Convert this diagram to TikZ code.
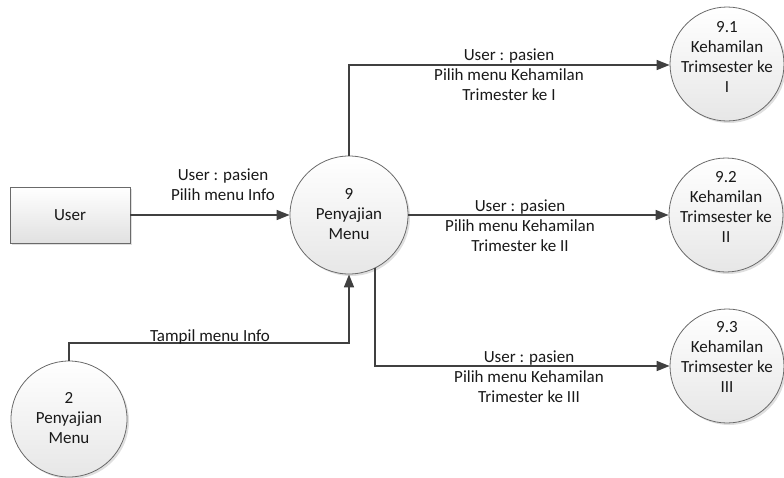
\documentclass[tikz,border=0pt]{standalone}
\usepackage{fontspec}
\setmainfont{Carlito}
\usetikzlibrary{arrows.meta,shadows}
\definecolor{linec}{HTML}{404040}
\definecolor{edgec}{HTML}{6A6A6A}
\definecolor{fillc}{HTML}{F2F2F2}
\begin{document}
\begin{tikzpicture}[x=1pt,y=-1pt,
  every node/.style={font=\fontsize{17}{20}\selectfont, text=black!90, inner sep=0pt},
  proc/.style={circle, draw=edgec, line width=0.8pt, top color=white, bottom color=fillc!90!gray, drop shadow={opacity=0.25, shadow xshift=2pt, shadow yshift=-2pt}},
  ent/.style={rectangle, draw=edgec, line width=0.8pt, top color=white, bottom color=fillc!85!gray, drop shadow={opacity=0.25, shadow xshift=2pt, shadow yshift=-2pt}},
  flow/.style={draw=linec, line width=1.6pt, -{Triangle[length=13pt,width=10pt]}},
  lbl/.style={align=center}]
\useasboundingbox (0,0) rectangle (784,477);
% nodes
\node[ent, minimum width=120pt, minimum height=56pt] (user) at (70,215) {};
\node (usert) at (70,215) {User};
\node[proc, minimum size=118pt] (p9) at (349,215) {};
\node[lbl] (p9t) at (349,214) {9\\Penyajian\\Menu};
\node[proc, minimum size=114pt] (p91) at (727,64) {};
\node[lbl] (p91t) at (727,57) {9.1\\Kehamilan\\Trimsester ke\\I};
\node[proc, minimum size=114pt] (p92) at (726,215) {};
\node[lbl] (p92t) at (726,207) {9.2\\Kehamilan\\Trimsester ke\\II};
\node[proc, minimum size=114pt] (p93) at (727,366) {};
\node[lbl] (p93t) at (727,357) {9.3\\Kehamilan\\Trimsester ke\\III};
\node[proc, minimum size=116pt] (p2) at (69,419) {};
\node[lbl] (p2t) at (69,418) {2\\Penyajian\\Menu};
% connectors
\coordinate (c1) at (349,65);
\coordinate (c2) at (349,343);
\draw[flow] (user.east) -- (p9.west);
\draw[flow] (p9.north) -- (c1) -- (p91.west |- c1);
\draw[flow] (p9.east) -- (p92.west);
\draw[flow] (p9.-64) |- (p93.west);
\draw[flow] (p2.north) |- (c2) -- (p9.south);
% labels
\node[lbl] (l1) at (223,185) {User : pasien\\Pilih menu Info};
\node[lbl] (l2) at (509,75) {User : pasien\\Pilih menu Kehamilan\\Trimester ke I};
\node[lbl] (l3) at (520,226) {User : pasien\\Pilih menu Kehamilan\\Trimester ke II};
\node[lbl] (l4) at (529,377) {User : pasien\\Pilih menu Kehamilan\\Trimester ke III};
\node[anchor=base] (l5) at (210,341) {Tampil menu Info};
\end{tikzpicture}
\end{document}
